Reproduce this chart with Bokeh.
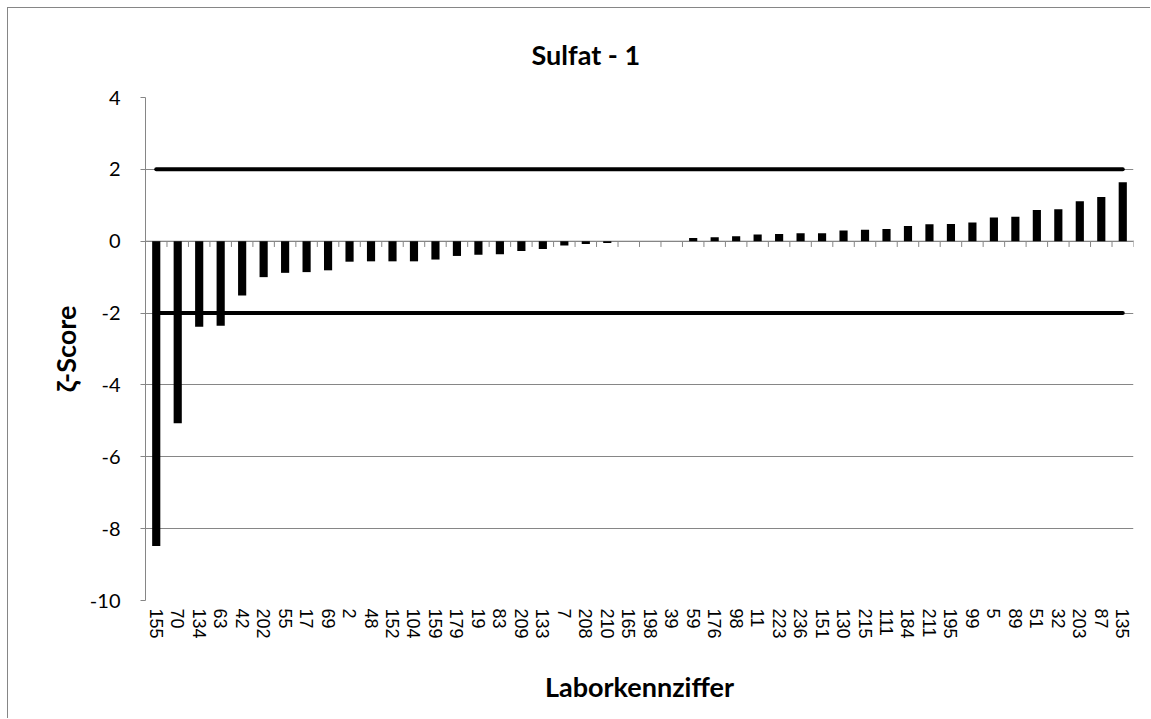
from bokeh.plotting import figure
from bokeh.models import FactorRange, Range1d, FixedTicker, ColumnDataSource
from bokeh.transform import dodge
from bokeh.embed import file_html
from bokeh.resources import INLINE

labs = ["155", "70", "134", "63", "42", "202", "55", "17", "69", "2", "48", "152", "104",
        "159", "179", "19", "83", "209", "133", "7", "208", "210", "165", "198", "39",
        "59", "176", "98", "11", "223", "236", "151", "130", "215", "111", "184", "211",
        "195", "99", "5", "89", "51", "32", "203", "87", "135"]
zeta = [-8.48, -5.07, -2.38, -2.35, -1.51, -1.0, -0.88, -0.86, -0.81, -0.57, -0.56, -0.56,
        -0.56, -0.51, -0.41, -0.38, -0.36, -0.27, -0.22, -0.12, -0.08, -0.05, 0.0, 0.0, 0.0,
        0.09, 0.11, 0.14, 0.19, 0.2, 0.22, 0.22, 0.3, 0.32, 0.34, 0.42, 0.47, 0.48, 0.52,
        0.66, 0.68, 0.87, 0.89, 1.11, 1.23, 1.64]
limits = [2, -2]
y_ticks = [-10, -8, -6, -4, -2, 0, 2, 4]
title_text = "Sulfat - 1"
x_title = "Laborkennziffer"
y_title = "ζ-Score"

GRID = "#868686"
FONT = "Lato"

p = figure(x_range=FactorRange(*labs), y_range=Range1d(-10, 4),
           width=1143, height=711, output_backend="svg", toolbar_location=None,
           min_border_left=137, min_border_right=18, min_border_top=89, min_border_bottom=119)
p.styles = {"border-left": "1px solid " + GRID, "border-top": "1px solid " + GRID,
            "margin-left": "7px", "margin-top": "7px"}
p.outline_line_color = None
p.xgrid.grid_line_color = None
p.ygrid.grid_line_color = GRID
p.ygrid.grid_line_width = 1

src = ColumnDataSource(dict(lab=labs, z=zeta))

# zero axis line with boundary ticks
p.segment(x0=dodge("lab", -0.5, range=p.x_range), x1=dodge("lab", 0.5, range=p.x_range),
          y0=0, y1=0, line_color=GRID, line_width=1, source=src)
p.segment(x0=dodge("lab", -0.5, range=p.x_range), x1=dodge("lab", -0.5, range=p.x_range),
          y0=0, y1=-0.16, line_color=GRID, line_width=1, source=src)
end_src = ColumnDataSource(dict(lab=[labs[-1]]))
p.segment(x0=dodge("lab", 0.5, range=p.x_range), x1=dodge("lab", 0.5, range=p.x_range),
          y0=0.02, y1=-0.16, line_color=GRID, line_width=1, source=end_src)

p.vbar(x="lab", top="z", bottom=0, width=0.38, fill_color="black", line_color=None, source=src)

for lv in limits:
    p.line(x=[labs[0], labs[-1]], y=[lv, lv], line_color="black", line_width=4, line_cap="round")

# title
p.title.text = title_text
p.title.align = "left"
p.title.offset = 386
p.title.text_font = FONT
p.title.text_font_style = "bold"
p.title.text_font_size = "27px"
p.title.text_color = "black"
p.title.standoff = 54

# axes
p.xaxis.axis_line_color = None
p.xaxis.major_tick_line_color = None
p.xaxis.minor_tick_line_color = None
p.xaxis.major_label_orientation = "vertical"
p.xaxis.major_label_text_font = "Liberation Sans"
p.xaxis.major_label_text_font_size = "18px"
p.xaxis.major_label_text_color = "black"
p.xaxis.major_label_standoff = 2
p.xaxis.axis_label = x_title
p.xaxis.axis_label_text_font = FONT
p.xaxis.axis_label_text_font_style = "bold"
p.xaxis.axis_label_text_font_size = "27px"
p.xaxis.axis_label_text_color = "black"
p.xaxis.axis_label_standoff = 28

p.yaxis.ticker = FixedTicker(ticks=y_ticks)
p.yaxis.major_label_overrides = {t: str(t) for t in y_ticks}
p.yaxis.axis_line_color = GRID
p.yaxis.major_tick_line_color = GRID
p.yaxis.major_tick_out = 5
p.yaxis.major_tick_in = 0
p.yaxis.minor_tick_line_color = None
p.yaxis.major_label_text_font = FONT
p.yaxis.major_label_text_font_size = "20px"
p.yaxis.major_label_text_color = "black"
p.yaxis.major_label_standoff = 20
p.yaxis.axis_label = y_title
p.yaxis.axis_label_text_font = FONT
p.yaxis.axis_label_text_font_style = "bold"
p.yaxis.axis_label_text_font_size = "27px"
p.yaxis.axis_label_text_color = "black"
p.yaxis.axis_label_standoff = 5

open("out.html", "w").write(file_html(p, INLINE))
